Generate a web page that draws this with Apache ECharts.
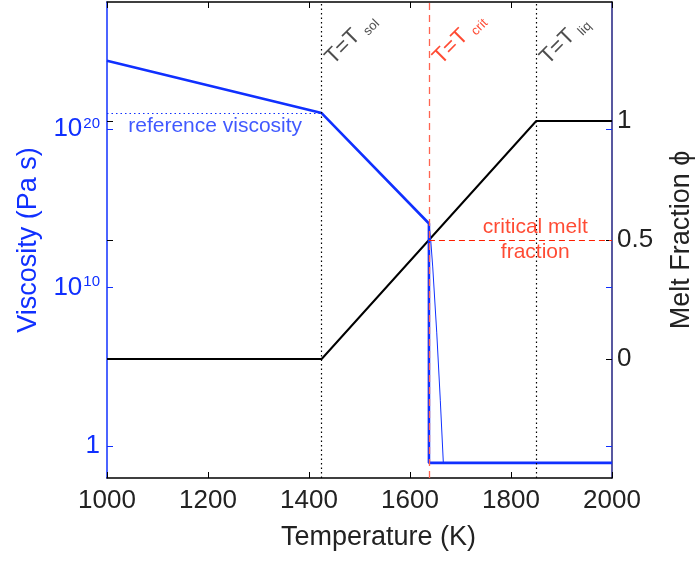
<!DOCTYPE html>
<html><head><meta charset="utf-8">
<script src="https://cdn.jsdelivr.net/npm/echarts@6/dist/echarts.min.js"></script>
<style>html,body{margin:0;padding:0;background:#fff}#c{width:695px;height:561px}</style>
</head><body><div id="c"></div><script>
// ---- data ----
const T_SOL = 1425, T_CRIT = 1637.5, T_LIQ = 1850;
const viscT = [1000, 1425, 1637.5, 1637.5, 2000];
const viscV = [2e24, 1e21, 1.1e14, 0.09, 0.09];
const smoothT = [1637.5, 1641, 1645, 1653, 1660, 1666, 2000];
const smoothV = [1.1e14, 1e13, 2e11, 1.4e7, 8e2, 0.09, 0.09];
const meltT = [1000, 1425, 1850, 2000];
const meltPhi = [0, 0, 1, 1];
const REF_VISC = 1e21;
const CRIT_PHI = 0.5;
const xTicks = [1000, 1200, 1400, 1600, 1800, 2000];
const viscTickValues = [1, 1e10, 1e20];
const meltTickValues = [0, 0.5, 1];

const BLUE = '#1030ff', RED = '#ff1e00', RED_L = '#ff6450', DARK = '#222222', NAVY = '#202080';
const lg = v => Math.log10(v);
const viscExpTicks = viscTickValues.map(lg);

const chart = echarts.init(document.getElementById('c'), null, {renderer: 'canvas'});
const font = 'Liberation Sans, Arial, Helvetica, sans-serif';
const subRich = c => ({m: {color: c, fontSize: 22, fontFamily: font},
                       s: {color: c, fontSize: 13, fontFamily: font, verticalAlign: 'bottom', padding: [0, 0, -2, 2]}});

const option = {
  animation: false,
  textStyle: {fontFamily: font},
  grid: {left: 107, right: 83, top: 2, bottom: 83, show: false, outerBoundsMode: 'none', containLabel: false},
  xAxis: [
    {type: 'value', position: 'bottom', min: 1000, max: 2000, interval: 200,
     axisLine: {onZero: false, lineStyle: {color: '#000', width: 1.5}},
     axisTick: {inside: true, length: 6, customValues: xTicks, lineStyle: {color: '#000'}},
     axisLabel: {fontSize: 26, color: DARK, margin: 10, fontFamily: font, customValues: xTicks, formatter: v => String(v)},
     splitLine: {show: false},
     name: 'Temperature (K)', nameLocation: 'middle', nameGap: 46,
     nameTextStyle: {fontSize: 27, color: DARK, fontFamily: font, padding: [0, 0, 0, 38]}},
    {type: 'value', position: 'top', min: 1000, max: 2000, interval: 200,
     axisLine: {onZero: false, lineStyle: {color: '#000', width: 1.5}},
     axisTick: {inside: true, length: 6, lineStyle: {color: '#000'}},
     axisLabel: {show: false}, splitLine: {show: false}}
  ],
  yAxis: [
    {type: 'value', position: 'left', min: -2, max: 28,
     axisLine: {show: true, onZero: false, lineStyle: {color: BLUE, width: 1.5}},
     axisTick: {show: true, inside: true, length: 6, customValues: viscExpTicks, lineStyle: {color: BLUE}},
     axisLabel: {customValues: viscExpTicks, color: BLUE, fontSize: 26, margin: 7, fontFamily: font,
       formatter: v => v === 0 ? '1' : '{b|10}{s|' + Math.round(v) + '}',
       rich: {b: {fontSize: 26, color: BLUE, fontFamily: font},
              s: {fontSize: 15, color: BLUE, fontFamily: font, verticalAlign: 'top', padding: [0, 0, 8, 1]}}},
     splitLine: {show: false},
     name: 'Viscosity (Pa s)', nameLocation: 'middle', nameGap: 64,
     nameTextStyle: {fontSize: 27, color: BLUE, fontFamily: font}},
    {type: 'value', position: 'right', min: -0.5, max: 1.5,
     axisLine: {show: true, onZero: false, lineStyle: {color: NAVY, width: 1.5}},
     axisTick: {show: true, inside: true, length: 6, customValues: meltTickValues, lineStyle: {color: '#000'}},
     axisLabel: {customValues: meltTickValues, color: DARK, fontSize: 26, margin: 5, fontFamily: font,
       formatter: v => String(v)},
     splitLine: {show: false},
     name: 'Melt Fraction \u03d5', nameLocation: 'middle', nameGap: 56, nameRotate: 90,
     nameTextStyle: {fontSize: 27, color: DARK, fontFamily: font}},
    {type: 'value', position: 'right', min: -2, max: 28,
     axisLine: {show: false, onZero: false},
     axisTick: {show: true, inside: true, length: 6, customValues: viscExpTicks, lineStyle: {color: BLUE}},
     axisLabel: {show: false}, splitLine: {show: false}},
    {type: 'value', position: 'left', min: -0.5, max: 1.5,
     axisLine: {show: false, onZero: false},
     axisTick: {show: true, inside: true, length: 6, customValues: meltTickValues, lineStyle: {color: '#000'}},
     axisLabel: {show: false}, splitLine: {show: false}}
  ],
  series: [
    {name: 'melt', type: 'line', xAxisIndex: 0, yAxisIndex: 1, symbol: 'none', z: 3,
     data: meltT.map((t, i) => [t, meltPhi[i]]),
     lineStyle: {color: '#000', width: 2},
     markLine: {silent: true, symbol: 'none', label: {show: false},
       data: [
         [{coord: [T_CRIT, CRIT_PHI]}, {coord: [2000, CRIT_PHI]}]
       ],
       lineStyle: {color: RED, width: 1.2, type: [6, 4]}}},
    {name: 'viscSmooth', type: 'line', xAxisIndex: 0, yAxisIndex: 0, symbol: 'none', z: 4,
     data: smoothT.map((t, i) => [t, lg(smoothV[i])]),
     lineStyle: {color: BLUE, width: 1}},
    {name: 'visc', type: 'line', xAxisIndex: 0, yAxisIndex: 0, symbol: 'none', z: 4,
     data: viscT.map((t, i) => [t, lg(viscV[i])]),
     lineStyle: {color: BLUE, width: 2.6},
     markLine: {silent: true, symbol: 'none', label: {show: false},
       data: [
         [{coord: [1000, lg(REF_VISC)]}, {coord: [T_SOL, lg(REF_VISC)]}]
       ],
       lineStyle: {color: BLUE, width: 1.2, type: [1.5, 3]}}},
    {name: 'vlines', type: 'line', xAxisIndex: 0, yAxisIndex: 0, symbol: 'none', data: [], z: 5,
     markLine: {silent: true, symbol: 'none', label: {show: false},
       data: [
         {xAxis: T_SOL, lineStyle: {color: '#000', width: 1.2, type: [1.5, 3]}},
         {xAxis: T_LIQ, lineStyle: {color: '#000', width: 1.2, type: [1.5, 3]}},
         {xAxis: T_CRIT, lineStyle: {color: RED_L, width: 1.3, type: [7, 5]}}
       ]}},
    {name: 'labels', type: 'scatter', xAxisIndex: 0, yAxisIndex: 0, symbolSize: 0, z: 6, silent: true,
     data: [
       {value: [T_SOL + 30, 23.8], label: {formatter: '{m|T=T}{s| sol}', rich: subRich(DARK)}},
       {value: [T_CRIT + 31, 23.8], label: {formatter: '{m|T=T}{s| crit}', rich: subRich(RED)}},
       {value: [T_LIQ + 30, 23.8], label: {formatter: '{m|T=T}{s| liq}', rich: subRich(DARK)}}
     ],
     label: {show: true, position: [0, 0], align: 'left', verticalAlign: 'bottom', rotate: 45}},
    {name: 'refLabel', type: 'scatter', xAxisIndex: 0, yAxisIndex: 0, symbolSize: 0, z: 6, silent: true,
     data: [{value: [1042, 20.2]}],
     label: {show: true, position: [0, 0], align: 'left', verticalAlign: 'middle',
       formatter: 'reference viscosity', color: BLUE, fontSize: 21, fontFamily: font}},
    {name: 'critLabel', type: 'scatter', xAxisIndex: 0, yAxisIndex: 1, symbolSize: 0, z: 6, silent: true,
     data: [{value: [1848, CRIT_PHI]}],
     label: {show: true, position: [0, 0], align: 'center', verticalAlign: 'middle', lineHeight: 25,
       formatter: 'critical melt\nfraction', color: RED, fontSize: 21, fontFamily: font}}
  ]
};
chart.setOption(option);
</script></body></html>
